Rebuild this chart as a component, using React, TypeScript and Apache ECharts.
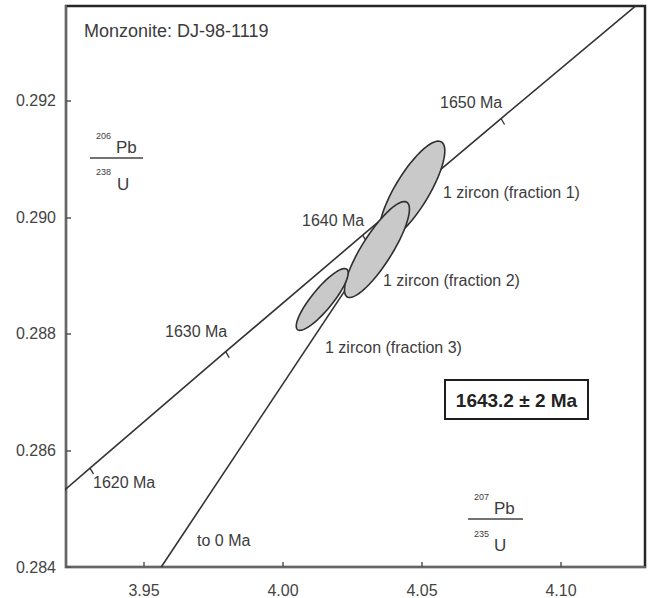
import React, { useEffect, useRef } from "react";
import * as echarts from "echarts";

// Concordia curve points (age in Ma, 207Pb/235U, 206Pb/238U)
const concordiaAges = [1610, 1620, 1630, 1640, 1650, 1660, 1670];
const concordiaX = [3.88226, 3.93058, 3.97938, 4.02866, 4.07843, 4.12869, 4.17946];
const concordiaY = [0.283705, 0.285696, 0.287695, 0.289694, 0.291696, 0.293702, 0.29571];
const tickAges = [1620, 1630, 1640, 1650];

// Discordia line: from lower end ("to 0 Ma") to upper intercept (1643.2 Ma)
const discordiaX = [3.9562, 4.0445];
const discordiaY = [0.284, 0.29034];

// Zircon fractions: error ellipses (centre, half-widths, correlation)
const fractionNames = ["1 zircon (fraction 1)", "1 zircon (fraction 2)", "1 zircon (fraction 3)"];
const ellipseX = [4.0464, 4.0338, 4.0141];
const ellipseY = [0.290458, 0.289448, 0.288591];
const ellipseSx = [0.0118, 0.01168, 0.00934];
const ellipseSy = [0.00085, 0.000823, 0.00053];
const ellipseRho = [0.803, 0.842, 0.861];

const X_MIN = 3.92194;
const X_MAX = 4.13021;
const Y_MIN = 0.284;
const Y_MAX = 0.293627;

const FONT = "'Liberation Sans', Arial, Helvetica, sans-serif";
const TXT = "#3c3c3c";

export default function App() {
  const ref = useRef<HTMLDivElement>(null);

  useEffect(() => {
    document.body.style.margin = "0";
    if (!ref.current) return;
    const chart = echarts.init(ref.current, null, { renderer: "svg" });

    const concordiaData = concordiaX.map((x, i) => [x, concordiaY[i]]);
    const tickData = tickAges.map((a) => {
      const i = concordiaAges.indexOf(a);
      return [concordiaX[i], concordiaY[i]];
    });
    const discordiaData = discordiaX.map((x, i) => [x, discordiaY[i]]);
    const ellipseData = ellipseX.map((x, i) => [x, ellipseY[i], ellipseSx[i], ellipseSy[i], ellipseRho[i]]);

    const text = (t: string, x: number, y: number, size = 16, extra: any = {}) => ({
      type: "text",
      x,
      y,
      z: 50,
      style: {
        text: t,
        fill: TXT,
        fontSize: size,
        fontFamily: FONT,
        align: "left",
        verticalAlign: "middle",
        ...extra,
      },
    });

    const option: any = {
      animation: false,
      grid: {
        left: 66,
        right: 4,
        top: 6,
        bottom: 30,
        show: true,
        borderColor: "#262626",
        borderWidth: 2.5,
        backgroundColor: "#fff",
      },
      xAxis: {
        type: "value",
        min: X_MIN,
        max: X_MAX,
        splitNumber: 4,
        axisLine: { show: true, onZero: false, lineStyle: { color: "#666", width: 2 } },
        axisTick: { show: true, inside: true, length: 5, lineStyle: { color: "#555", width: 1.5 } },
        axisLabel: {
          margin: 15,
          color: "#444",
          fontSize: 16,
          fontFamily: FONT,
          showMinLabel: false,
          showMaxLabel: false,
          formatter: (v: number) => v.toFixed(2),
        },
        splitLine: { show: false },
      },
      yAxis: {
        type: "value",
        min: Y_MIN,
        max: Y_MAX,
        interval: 0.002,
        axisLine: { show: true, onZero: false, lineStyle: { color: "#666", width: 2 } },
        axisTick: { show: true, inside: true, length: 5, lineStyle: { color: "#555", width: 1.5 } },
        axisLabel: {
          margin: 10,
          color: "#444",
          fontSize: 16,
          fontFamily: FONT,
          showMaxLabel: false,
          formatter: (v: number) => v.toFixed(3),
        },
        splitLine: { show: false },
      },
      series: [
        {
          type: "line",
          name: "concordia",
          data: concordiaData,
          showSymbol: false,
          symbol: "none",
          clip: true,
          lineStyle: { color: "#333", width: 1.6 },
          z: 2,
        },
        {
          type: "line",
          name: "discordia",
          data: discordiaData,
          showSymbol: false,
          symbol: "none",
          clip: true,
          lineStyle: { color: "#333", width: 1.6 },
          z: 2,
        },
        {
          type: "custom",
          name: "ticks",
          data: tickData,
          encode: { x: 0, y: 1 },
          z: 3,
          renderItem: (_p: any, api: any) => {
            const p = api.coord([api.value(0), api.value(1)]);
            return {
              type: "line",
              shape: { x1: p[0], y1: p[1], x2: p[0] + 3.5, y2: p[1] + 6 },
              style: { stroke: "#333", lineWidth: 1.3 },
            };
          },
        },
        {
          type: "custom",
          name: "fractions",
          data: ellipseData,
          encode: { x: 0, y: 1 },
          z: 5,
          renderItem: (_p: any, api: any) => {
            const cx = api.value(0);
            const cy = api.value(1);
            const sx = api.value(2);
            const sy = api.value(3);
            const r = api.value(4);
            const q = Math.sqrt(1 - r * r);
            const pts: number[][] = [];
            for (let k = 0; k < 96; k++) {
              const t = (k / 96) * Math.PI * 2;
              const x = cx + sx * Math.cos(t);
              const y = cy + sy * (r * Math.cos(t) + q * Math.sin(t));
              pts.push(api.coord([x, y]));
            }
            return {
              type: "polygon",
              shape: { points: pts },
              style: { fill: "#c9c9c9", stroke: "#2e2e2e", lineWidth: 1.6 },
            };
          },
        },
      ],
      graphic: [
        text("Monzonite: DJ-98-1119", 84, 31, 18),
        text("1650 Ma", 440, 102),
        text("1640 Ma", 302, 220),
        text("1630 Ma", 165, 331),
        text("1620 Ma", 93, 482),
        text("to 0 Ma", 197, 540),
        text(fractionNames[0], 443, 192),
        text(fractionNames[1], 383, 280),
        text(fractionNames[2], 325, 347),
        {
          type: "rect",
          z: 60,
          shape: { x: 445, y: 380, width: 143, height: 39 },
          style: { fill: "#fff", stroke: "#1e1e1e", lineWidth: 2 },
        },
        {
          type: "text",
          x: 516.5,
          y: 400,
          z: 61,
          style: {
            text: "1643.2 ± 2 Ma",
            fill: "#222",
            fontSize: 19,
            fontWeight: "bold",
            fontFamily: FONT,
            align: "center",
            verticalAlign: "middle",
          },
        },
        // 206Pb / 238U
        text("206", 96, 136, 9),
        text("Pb", 116, 147, 17),
        {
          type: "line",
          z: 50,
          shape: { x1: 90, y1: 158, x2: 143, y2: 158 },
          style: { stroke: "#444", lineWidth: 1.5 },
        },
        text("238", 96, 172, 9),
        text("U", 117, 184, 17),
        // 207Pb / 235U
        text("207", 474, 497, 9),
        text("Pb", 494, 508, 17),
        {
          type: "line",
          z: 50,
          shape: { x1: 468, y1: 519, x2: 523, y2: 519 },
          style: { stroke: "#444", lineWidth: 1.5 },
        },
        text("235", 474, 534, 9),
        text("U", 494, 545, 17),
      ],
    };

    chart.setOption(option);
    return () => chart.dispose();
  }, []);

  return <div ref={ref} style={{ width: 649, height: 598 }} />;
}
